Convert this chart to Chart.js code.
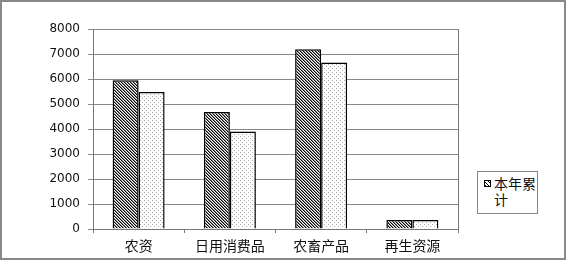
<!DOCTYPE html>
<html>
<head>
<meta charset="utf-8">
<script src="https://cdn.jsdelivr.net/npm/chart.js@4"></script>
<style>
  body { margin: 0; background: #fff; }
  #wrap { position: relative; width: 566px; height: 260px; }
  #legend {
    position: absolute; left: 477px; top: 171px; width: 59px; height: 38px;
    border: 1px solid #888; background: #fff;
    font-family: "Noto Sans CJK SC", sans-serif; font-size: 14px; line-height: 16px; color: #111;
    display: flex; align-items: flex-start; padding-top: 3px; box-sizing: content-box;
  }
  #legend .icon {
    width: 5px; height: 5px; border: 1px solid #000; margin: 5px 3px 0 6px; flex: none;
    background: repeating-linear-gradient(45deg, #000 0 1px, #fff 1px 2.5px);
  }
  #legend .txt { width: 43px; word-break: break-all; }
</style>
</head>
<body>
<div id="wrap">
  <canvas id="chart" width="566" height="260"></canvas>
  <div id="legend"></div>
</div>
<script>
// chart data
const categories = ['农资', '日用消费品', '农畜产品', '再生资源'];
const thisYear = [5950, 4680, 7190, 360];
const lastYear = [5480, 3900, 6660, 360];
const yTicks = [0, 1000, 2000, 3000, 4000, 5000, 6000, 7000, 8000];

// diagonal hatch fill
function makeHatch() {
    const c = document.createElement('canvas');
    c.width = 3; c.height = 3;
    const g = c.getContext('2d');
    g.fillStyle = '#fff';
    g.fillRect(0, 0, 3, 3);
    for (let i = 0; i < 3; i++) {
        g.fillStyle = '#000';
        g.fillRect(i, i, 1, 1);
        g.fillStyle = '#888';
        g.fillRect((i + 1) % 3, i, 1, 1);
    }
    return g.createPattern(c, 'repeat');
}

// light dot fill
function makeDots() {
    const c = document.createElement('canvas');
    c.width = 4; c.height = 4;
    const g = c.getContext('2d');
    g.fillStyle = '#fff';
    g.fillRect(0, 0, 4, 4);
    g.fillStyle = '#a8a8a8';
    g.fillRect(0, 0, 1, 1);
    g.fillRect(2, 2, 1, 1);
    return g.createPattern(c, 'repeat');
}

// plot area right edge + outer frame
const framePlugin = {
    id: 'frame',
    afterDraw(chart) {
        const ctx = chart.ctx;
        const a = chart.chartArea;
        ctx.save();
        ctx.strokeStyle = '#777';
        ctx.lineWidth = 1;
        ctx.beginPath();
        ctx.moveTo(Math.round(a.right) + 0.5, a.top);
        ctx.lineTo(Math.round(a.right) + 0.5, a.bottom);
        ctx.stroke();
        ctx.strokeStyle = '#888';
        ctx.lineWidth = 2;
        ctx.strokeRect(1, 1, chart.width - 2, chart.height - 2);
        ctx.restore();
    }
};

function init() {
    const chart = new Chart(document.getElementById('chart'), {
        type: 'bar',
        data: {
            labels: categories,
            datasets: [
                { label: '本年累计', data: thisYear, backgroundColor: makeHatch(), borderColor: '#000', borderWidth: 1.5 },
                { label: '上年同期', data: lastYear, backgroundColor: makeDots(), borderColor: '#000', borderWidth: 1.5 }
            ]
        },
        options: {
            responsive: false,
            animation: false,
            layout: { padding: { top: 29, right: 108, left: 0, bottom: 0 } },
            datasets: { bar: { categoryPercentage: 0.57, barPercentage: 1 } },
            plugins: { legend: { display: false }, tooltip: { enabled: false } },
            scales: {
                x: {
                    grid: { drawOnChartArea: false, tickLength: 4, color: '#777', offset: true },
                    border: { color: '#777' },
                    ticks: { font: { family: '"Noto Sans CJK SC", sans-serif', size: 14 }, color: '#111', padding: 4 },
                    afterFit(s) { s.height = 31; }
                },
                y: {
                    min: 0,
                    max: 8000,
                    afterBuildTicks(s) { s.ticks = yTicks.map(v => ({ value: v })); },
                    grid: { color: '#888', tickLength: 5 },
                    border: { color: '#777' },
                    ticks: {
                        font: { family: '"DejaVu Sans", sans-serif', size: 12 },
                        color: '#111',
                        padding: 8,
                        callback: v => String(v)
                    },
                    afterFit(s) { s.width = 93; }
                }
            }
        },
        plugins: [framePlugin]
    });

    // legend shows only the first series, like the original
    const first = chart.data.datasets[0];
    document.getElementById('legend').innerHTML =
        `<span class="icon"></span><span class="txt">${first.label}</span>`;
}

document.addEventListener('DOMContentLoaded', init);
</script>
</body>
</html>
